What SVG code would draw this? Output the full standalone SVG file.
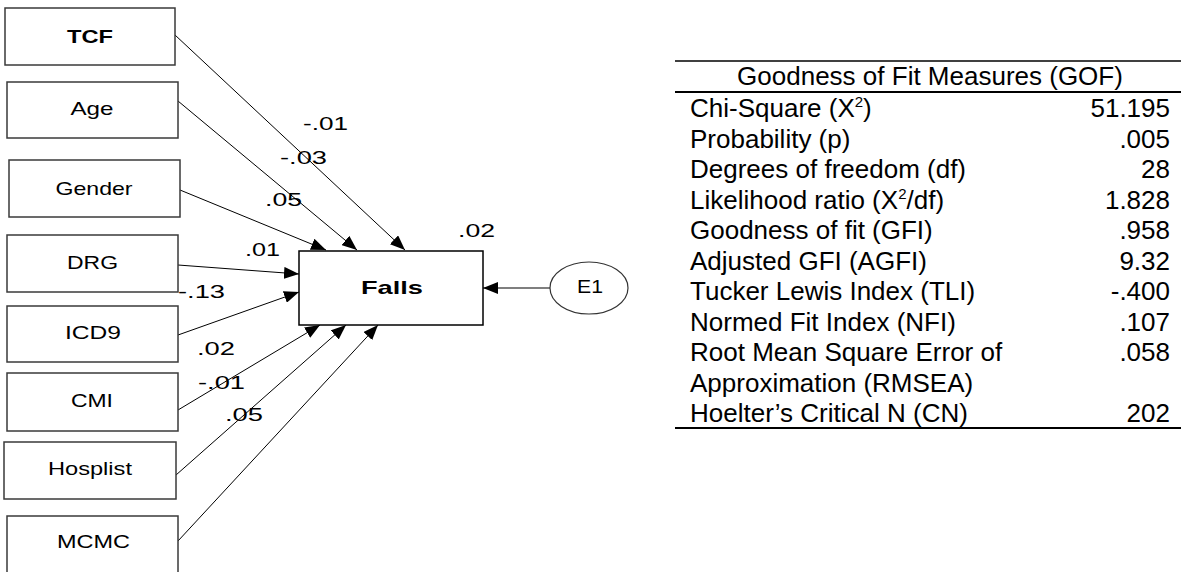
<svg xmlns="http://www.w3.org/2000/svg" width="1183" height="572" viewBox="0 0 1183 572">
<defs>
<marker id="ah" viewBox="0 0 15 12" refX="15" refY="6" markerWidth="15" markerHeight="12" orient="auto" markerUnits="userSpaceOnUse">
<path d="M0,0 L15,6 L0,12 z" fill="#000"/>
</marker>
</defs>
<style>
.box{fill:#fff;stroke:#3a3a3a;stroke-width:1.5}
.lbl{font-family:"Liberation Sans",Arial,sans-serif;font-size:18.5px;fill:#000;text-anchor:middle}
.coef{font-family:"Liberation Sans",Arial,sans-serif;font-size:19px;fill:#000}
.con{stroke:#000;stroke-width:1;fill:none;marker-end:url(#ah)}
.tbl{font-family:"Liberation Sans",Arial,sans-serif;font-size:26px;fill:#000}
.num{text-anchor:end}
.rule{stroke:#000;stroke-width:2}
</style>
<rect width="1183" height="572" fill="#fff"/>
<g id="connectors">
<line class="con" x1="175" y1="35" x2="405" y2="250"/>
<line class="con" x1="178" y1="101" x2="357" y2="250"/>
<line class="con" x1="180" y1="190" x2="326" y2="250"/>
<line class="con" x1="178" y1="265" x2="299" y2="274"/>
<line class="con" x1="178" y1="335" x2="299" y2="292"/>
<line class="con" x1="178" y1="410" x2="320" y2="325"/>
<line class="con" x1="176" y1="475" x2="346" y2="325"/>
<line class="con" x1="178" y1="541" x2="378" y2="325"/>
<line class="con" x1="550" y1="288" x2="483" y2="288" style="stroke:#555;stroke-width:1.5"/>
</g>
<g id="coefficients">
<text class="coef" x="303" y="130" textLength="45" lengthAdjust="spacingAndGlyphs">-.01</text>
<text class="coef" x="280" y="164" textLength="47" lengthAdjust="spacingAndGlyphs">-.03</text>
<text class="coef" x="265" y="206" textLength="37" lengthAdjust="spacingAndGlyphs">.05</text>
<text class="coef" x="245" y="256" textLength="35" lengthAdjust="spacingAndGlyphs">.01</text>
<text class="coef" x="178" y="298" textLength="47" lengthAdjust="spacingAndGlyphs">-.13</text>
<text class="coef" x="197" y="355" textLength="38" lengthAdjust="spacingAndGlyphs">.02</text>
<text class="coef" x="198" y="389" textLength="47" lengthAdjust="spacingAndGlyphs">-.01</text>
<text class="coef" x="225" y="421" textLength="38" lengthAdjust="spacingAndGlyphs">.05</text>
<text class="coef" x="458" y="237" textLength="37" lengthAdjust="spacingAndGlyphs">.02</text>
</g>
<g id="node-TCF"><rect class="box" x="5" y="8" width="170" height="57"/><text class="lbl" x="90" y="43" font-weight="bold" textLength="46" lengthAdjust="spacingAndGlyphs">TCF</text></g>
<g id="node-Age"><rect class="box" x="7" y="82" width="171" height="56"/><text class="lbl" x="92" y="115" textLength="43" lengthAdjust="spacingAndGlyphs">Age</text></g>
<g id="node-Gender"><rect class="box" x="9" y="160" width="171" height="57"/><text class="lbl" x="94" y="195" textLength="77" lengthAdjust="spacingAndGlyphs">Gender</text></g>
<g id="node-DRG"><rect class="box" x="7" y="235" width="171" height="57"/><text class="lbl" x="92.5" y="269" textLength="51" lengthAdjust="spacingAndGlyphs">DRG</text></g>
<g id="node-ICD9"><rect class="box" x="7" y="306" width="171" height="56"/><text class="lbl" x="93" y="339" textLength="56" lengthAdjust="spacingAndGlyphs">ICD9</text></g>
<g id="node-CMI"><rect class="box" x="7" y="373" width="171" height="58"/><text class="lbl" x="92" y="407" textLength="42" lengthAdjust="spacingAndGlyphs">CMI</text></g>
<g id="node-Hosplist"><rect class="box" x="4" y="442" width="172" height="57"/><text class="lbl" x="90" y="475" textLength="84" lengthAdjust="spacingAndGlyphs">Hosplist</text></g>
<g id="node-MCMC"><rect class="box" x="7" y="516" width="171" height="62"/><text class="lbl" x="93.5" y="548" textLength="73" lengthAdjust="spacingAndGlyphs">MCMC</text></g>
<g id="node-Falls"><rect class="box" x="299" y="251" width="184" height="74" style="stroke:#000"/><text class="lbl" x="392" y="294" font-weight="bold" font-size="19" textLength="62" lengthAdjust="spacingAndGlyphs">Falls</text></g>
<g id="node-E1"><ellipse cx="589" cy="288" rx="39" ry="26" fill="#fff" stroke="#333" stroke-width="1.2"/><text class="lbl" x="590" y="293" textLength="26" lengthAdjust="spacingAndGlyphs">E1</text></g>
<g id="gof-table">
<line class="rule" x1="675" y1="61" x2="1181" y2="61" style="stroke-width:1.5"/>
<text class="tbl" x="930" y="85" text-anchor="middle">Goodness of Fit Measures (GOF)</text>
<line class="rule" x1="675" y1="92" x2="1181" y2="92"/>
<text class="tbl" x="690" y="117">Chi-Square (X<tspan dy="-10" font-size="15">2</tspan><tspan dy="10">)</tspan></text>
<text class="tbl num" x="1170" y="117">51.195</text>
<text class="tbl" x="690" y="147.5">Probability (p)</text>
<text class="tbl num" x="1170" y="147.5">.005</text>
<text class="tbl" x="690" y="178">Degrees of freedom (df)</text>
<text class="tbl num" x="1170" y="178">28</text>
<text class="tbl" x="690" y="208.5">Likelihood ratio (X<tspan dy="-10" font-size="15">2</tspan><tspan dy="10">/df)</tspan></text>
<text class="tbl num" x="1170" y="208.5">1.828</text>
<text class="tbl" x="690" y="239">Goodness of fit (GFI)</text>
<text class="tbl num" x="1170" y="239">.958</text>
<text class="tbl" x="690" y="269.5">Adjusted GFI (AGFI)</text>
<text class="tbl num" x="1170" y="269.5">9.32</text>
<text class="tbl" x="690" y="300">Tucker Lewis Index (TLI)</text>
<text class="tbl num" x="1170" y="300">-.400</text>
<text class="tbl" x="690" y="330.5">Normed Fit Index (NFI)</text>
<text class="tbl num" x="1170" y="330.5">.107</text>
<text class="tbl" x="690" y="361">Root Mean Square Error of</text>
<text class="tbl num" x="1170" y="361">.058</text>
<text class="tbl" x="690" y="391.5">Approximation (RMSEA)</text>
<text class="tbl" x="690" y="422">Hoelter’s Critical N (CN)</text>
<text class="tbl num" x="1170" y="422">202</text>
<line class="rule" x1="675" y1="428" x2="1181" y2="428"/>
</g>
</svg>
